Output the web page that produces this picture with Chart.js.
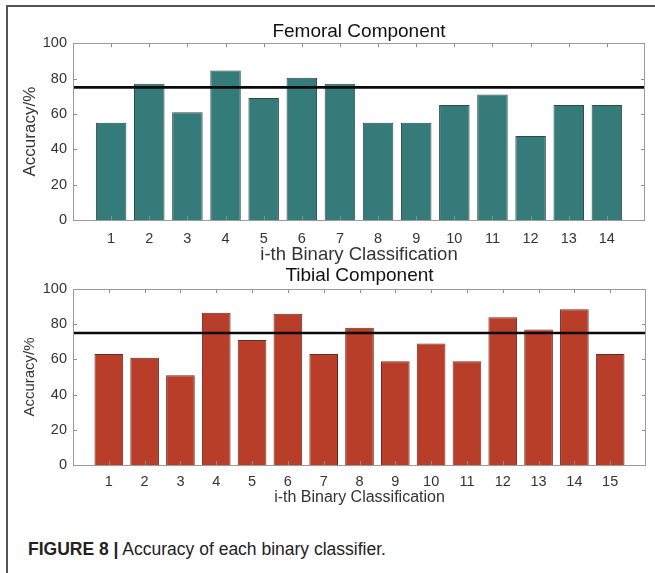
<!DOCTYPE html>
<html>
<head>
<meta charset="utf-8">
<script src="https://cdn.jsdelivr.net/npm/chart.js@4/dist/chart.umd.min.js"></script>
<style>
  html, body { margin: 0; padding: 0; background: #fff; }
  body { width: 655px; height: 573px; position: relative; overflow: hidden; font-family: "Liberation Sans", Arial, Helvetica, sans-serif; }
  .frame { position: absolute; left: 6px; top: 5px; width: 700px; height: 600px; border-left: 2px solid #555; border-top: 2px solid #555; }
  .panel { position: absolute; left: 0; width: 655px; }
  #femoralBox { top: 0; height: 280px; }
  #tibialBox { top: 262px; height: 258px; }
  .caption { position: absolute; left: 28px; top: 539px; font-size: 17.5px; color: #222; white-space: nowrap; }
  .caption b { font-weight: bold; }
</style>
</head>
<body>
<div class="frame"></div>
<div class="panel" id="femoralBox"><canvas id="femoralChart"></canvas></div>
<div class="panel" id="tibialBox"><canvas id="tibialChart"></canvas></div>
<div class="caption"><b>FIGURE 8 |</b> Accuracy of each binary classifier.</div>

<script>
// Accuracy (%) of each one-vs-one binary classifier
const femoralClassifiers = [1, 2, 3, 4, 5, 6, 7, 8, 9, 10, 11, 12, 13, 14];
const femoralAccuracy = [55, 77, 61, 84.5, 69, 80.5, 77, 55, 55, 65, 71, 47.5, 65, 65];

const tibialClassifiers = [1, 2, 3, 4, 5, 6, 7, 8, 9, 10, 11, 12, 13, 14, 15];
const tibialAccuracy = [63, 61, 51, 86.5, 71, 86, 63, 78, 59, 69, 59, 84, 77, 88.5, 63];

// Reference accuracy level drawn across each panel
const accuracyThreshold = 75;

const yTicks = [0, 20, 40, 60, 80, 100];

const FONT = '"Liberation Sans", Arial, Helvetica, sans-serif';

// Box around the plot area with short inward tick marks on all four sides
const axisBox = {
  id: 'axisBox',
  afterDatasetsDraw(chart) {
    const { ctx, chartArea: a, scales: { x, y } } = chart;
    const len = 4;
    ctx.save();
    ctx.lineWidth = 1;
    ctx.strokeStyle = '#8c8c8c';
    ctx.beginPath();
    x.ticks.forEach(t => {
      if (t.value <= x.min || t.value >= x.max) return;
      const px = Math.round(x.getPixelForValue(t.value)) + 0.5;
      ctx.moveTo(px, a.bottom); ctx.lineTo(px, a.bottom - len);
      ctx.moveTo(px, a.top); ctx.lineTo(px, a.top + len);
    });
    y.ticks.forEach(t => {
      if (t.value <= y.min || t.value >= y.max) return;
      const py = Math.round(y.getPixelForValue(t.value)) + 0.5;
      ctx.moveTo(a.left, py); ctx.lineTo(a.left + len, py);
      ctx.moveTo(a.right, py); ctx.lineTo(a.right - len, py);
    });
    ctx.stroke();
    ctx.strokeStyle = '#9a9a9a';
    ctx.strokeRect(Math.round(a.left) + 0.5, Math.round(a.top) + 0.5,
                   Math.round(a.width) - 1, Math.round(a.height));
    ctx.restore();
  }
};

function makePanel(canvasId, cfg) {
  const n = cfg.classifiers.length;
  const bars = cfg.classifiers.map((c, i) => ({ x: c, y: cfg.values[i] }));
  const threshold = [{ x: 0, y: accuracyThreshold }, { x: n + 1, y: accuracyThreshold }];

  return new Chart(document.getElementById(canvasId), {
    type: 'bar',
    data: {
      datasets: [
        {
          type: 'line',
          data: threshold,
          borderColor: '#0a0a0a',
          borderWidth: 2.6,
          pointRadius: 0,
          order: 0
        },
        {
          type: 'bar',
          data: bars,
          backgroundColor: cfg.color,
          borderColor: cfg.edge,
          borderWidth: 1,
          barPercentage: 0.8,
          categoryPercentage: 1,
          order: 1
        }
      ]
    },
    options: {
      responsive: true,
      maintainAspectRatio: false,
      animation: false,
      events: [],
      layout: { padding: { left: 0, right: 9, top: 0, bottom: 0 } },
      plugins: {
        legend: { display: false },
        tooltip: { enabled: false },
        title: {
          display: true,
          text: cfg.title,
          fullSize: false,
          color: '#111',
          font: { family: FONT, size: 19, weight: 'normal' },
          padding: cfg.titlePadding
        }
      },
      scales: {
        x: {
          type: 'linear',
          min: 0,
          max: n + 1,
          offset: false,
          grid: { display: false, drawTicks: false, offset: false },
          border: { display: false },
          afterBuildTicks(scale) {
            scale.ticks = [];
            for (let v = 0; v <= n + 1; v++) scale.ticks.push({ value: v });
          },
          ticks: {
            autoSkip: false,
            maxRotation: 0,
            padding: cfg.xTickPad,
            color: '#333',
            font: { family: FONT, size: 14.5 },
            callback: v => (v >= 1 && v <= n ? String(v) : '')
          },
          title: {
            display: true,
            text: 'i-th Binary Classification',
            color: '#333',
            font: { family: FONT, size: cfg.xTitleSize },
            padding: { top: 0, bottom: cfg.xTitlePad }
          },
          afterFit(scale) { scale.height = cfg.xAxisHeight; }
        },
        y: {
          min: 0,
          max: 100,
          grid: { display: false, drawTicks: false },
          border: { display: false },
          afterBuildTicks(scale) { scale.ticks = yTicks.map(v => ({ value: v })); },
          ticks: {
            padding: 6,
            color: '#333',
            font: { family: FONT, size: 14.5 }
          },
          title: {
            display: true,
            text: 'Accuracy/%',
            color: '#333',
            font: { family: FONT, size: cfg.yTitleSize },
            padding: { top: cfg.yTitlePad, bottom: 0 }
          },
          afterFit(scale) { scale.width = 73; }
        }
      }
    },
    plugins: [axisBox]
  });
}

makePanel('femoralChart', {
  classifiers: femoralClassifiers,
  values: femoralAccuracy,
  title: 'Femoral Component',
  color: '#357b7a',
  edge: '#2a4a49',
  titlePadding: { top: 20.4, bottom: 0 },
  xTickPad: 10,
  xTitleSize: 18.5,
  xTitlePad: 13.9,
  xAxisHeight: 60,
  yTitleSize: 17,
  yTitlePad: 19.8
});

makePanel('tibialChart', {
  classifiers: tibialClassifiers,
  values: tibialAccuracy,
  title: 'Tibial Component',
  color: '#b93e29',
  edge: '#6e2a1e',
  titlePadding: { top: 2.6, bottom: 1.6 },
  xTickPad: 8.5,
  xTitleSize: 16,
  xTitlePad: 12.4,
  xAxisHeight: 55,
  yTitleSize: 15,
  yTitlePad: 21
});
</script>
</body>
</html>
